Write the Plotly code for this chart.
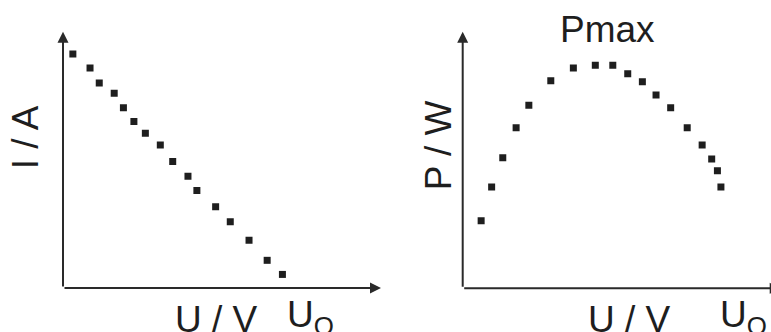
import plotly.graph_objects as go

W, H = 771, 332

# Left panel: current vs voltage (arbitrary units)
iu_voltage = [0.31, 0.85, 1.14, 1.61, 1.90, 2.23, 2.59, 3.06, 3.45, 3.93, 4.21, 4.80, 5.26, 5.85, 6.42, 6.90]
iu_current = [9.13, 8.58, 8.00, 7.60, 7.03, 6.50, 6.04, 5.58, 4.94, 4.36, 3.80, 3.17, 2.58, 1.86, 1.08, 0.53]

# Right panel: power vs voltage (arbitrary units)
pu_voltage = [0.58, 0.91, 1.26, 1.68, 2.08, 2.77, 3.48, 4.17, 4.72, 5.19, 5.65, 6.08, 6.54, 7.06, 7.53, 7.83, 8.01, 8.12]
pu_power = [2.63, 3.95, 5.09, 6.26, 7.13, 8.09, 8.59, 8.69, 8.69, 8.36, 8.05, 7.53, 7.04, 6.26, 5.58, 5.04, 4.58, 3.95]

labels_left = {"y": "I / A", "x": "U / V", "end": "U<sub>O</sub>"}
labels_right = {"y": "P / W", "x": "U / V", "end": "U<sub>O</sub>", "peak": "Pmax"}

FONT = "Liberation Sans, Arial, sans-serif"
INK = "#1e1e1e"
AXC = "#2a2a2a"

def px(x):
    return x / W

def py(y):
    return 1 - y / H

fig = go.Figure()
mk = dict(symbol="square", size=7, color=INK, line=dict(width=0))
fig.add_trace(go.Scatter(x=iu_voltage, y=iu_current, mode="markers", marker=mk, xaxis="x", yaxis="y", showlegend=False))
fig.add_trace(go.Scatter(x=pu_voltage, y=pu_power, mode="markers", marker=mk, xaxis="x2", yaxis="y2", showlegend=False))

ax_common = dict(visible=False, fixedrange=True)
fig.update_layout(
    width=W, height=H, margin=dict(l=0, r=0, t=0, b=0),
    paper_bgcolor="white", plot_bgcolor="white",
    xaxis=dict(domain=[px(63), px(381)], range=[0, 10], **ax_common),
    yaxis=dict(domain=[py(288), py(31.7)], range=[0, 10], **ax_common),
    xaxis2=dict(domain=[px(462.7), 1], range=[0, 9.695], anchor="y2", **ax_common),
    yaxis2=dict(domain=[py(288.3), py(31.7)], range=[0, 10], anchor="x2", **ax_common),
)

arrow = dict(showarrow=True, arrowhead=2, arrowsize=1.1, arrowwidth=2, arrowcolor=AXC, text="", standoff=0, startstandoff=0)
anns = []
# axes as arrows
anns.append(dict(xref="x", yref="y", axref="x", ayref="y", x=0, y=10, ax=0, ay=0, **arrow))
anns.append(dict(xref="x", yref="y", axref="x", ayref="y", x=10, y=0, ax=0, ay=0, **arrow))
anns.append(dict(xref="x2", yref="y2", axref="x2", ayref="y2", x=0, y=10, ax=0, ay=0, **arrow))
anns.append(dict(xref="x2", yref="y2", axref="x2", ayref="y2", x=10.0, y=0, ax=0, ay=0, **arrow))

tf = dict(family=FONT, size=37, color=INK)
def txt(t, x, y, xa="center", ya="middle", angle=0):
    anns.append(dict(xref="paper", yref="paper", x=px(x), y=py(y), text=t, showarrow=False,
                     xanchor=xa, yanchor=ya, textangle=angle, font=tf))

txt(labels_left["y"], 25.8, 137.5, angle=-90)
txt(labels_left["x"], 216, 319.5)
txt(labels_left["end"], 285, 316.5, xa="left")
txt(labels_right["y"], 438.3, 145, angle=-90)
txt(labels_right["x"], 629, 319.5)
txt(labels_right["end"], 718, 316.5, xa="left")
txt(labels_right["peak"], 607.5, 29.5)

fig.update_layout(annotations=anns)
fig.write_html("out.html")
